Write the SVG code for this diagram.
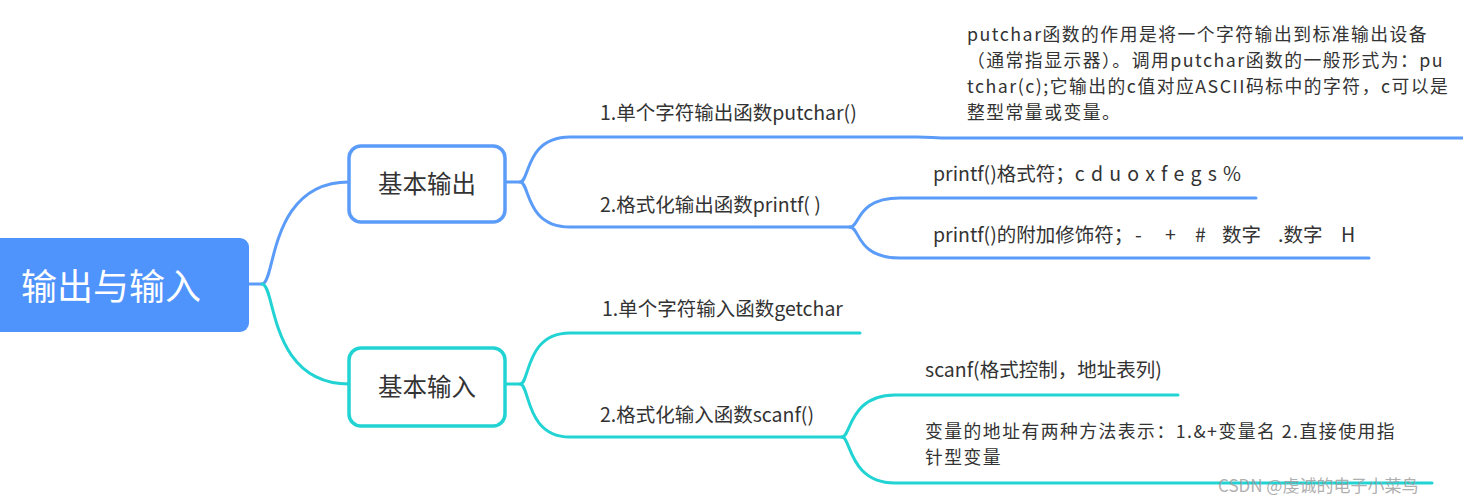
<svg xmlns="http://www.w3.org/2000/svg" width="1463" height="503" viewBox="0 0 1463 503">
<style>
.t{font-family:"Noto Sans CJK SC","Noto Sans",sans-serif;fill:#333;font-size:19.5px}
.m{font-family:"Noto Sans CJK SC","Noto Sans",sans-serif;fill:#333;font-size:17.8px;letter-spacing:1.5px}
.b{fill:none;stroke:#5b9cf8;stroke-width:3;stroke-linecap:round}
.g{fill:none;stroke:#22d3d3;stroke-width:3;stroke-linecap:round}
.n{font-family:"Noto Sans CJK SC",sans-serif;fill:#333;font-size:24.5px;text-anchor:middle}
</style>
<rect width="1463" height="503" fill="#fff"/>
<g id="connectors">
<path class="b" d="M249,284 H262 C276,284 268,182 349,182"/>
<path class="g" d="M262,284 C276,284 268,384 349,384"/>
<path class="b" d="M505,182 H520 C530,182 525,137 570,137 H917 C930,137 935,138 950,138 H1463"/>
<path class="b" d="M520,182 C530,182 525,227 570,227 H850"/>
<path class="b" d="M850,227 C860,227 856,198 900,198 H1256"/>
<path class="b" d="M850,227 C860,227 856,258 900,258 H1369"/>
<path class="g" d="M505,384 H520 C530,384 525,333 570,333 H860"/>
<path class="g" d="M520,384 C530,384 525,437 570,437 H842"/>
<path class="g" d="M842,437 C851,437 849,395 895,395 H1178"/>
<path class="g" d="M842,437 C851,437 849,483 895,483 H1432"/>
</g>
<g id="root">
<rect x="-10" y="238" width="259" height="94" rx="9" fill="#4f93fc"/>
<text x="21" y="300" style="font-family:'Noto Sans CJK SC',sans-serif;font-size:36px;fill:#fff">输出与输入</text>
</g>
<g id="out">
<rect x="349" y="146" width="156" height="76" rx="12" fill="#fff" stroke="#5b9cf8" stroke-width="3.5"/>
<text class="n" x="427" y="193">基本输出</text>
</g>
<g id="in">
<rect x="349" y="348" width="156" height="78" rx="12" fill="#fff" stroke="#22d3d3" stroke-width="3.5"/>
<text class="n" x="427" y="396">基本输入</text>
</g>
<g id="putchar"><text class="t" x="600" y="120">1.单个字符输出函数putchar()</text></g>
<g id="putchar-desc">
<text class="m" x="967" y="41">putchar函数的作用是将一个字符输出到标准输出设备</text>
<text class="m" x="967" y="67">（通常指显示器）。调用putchar函数的一般形式为：pu</text>
<text class="m" x="967" y="93">tchar(c);它输出的c值对应ASCII码标中的字符，c可以是</text>
<text class="m" x="967" y="119">整型常量或变量。</text>
</g>
<g id="printf"><text class="t" x="600" y="212">2.格式化输出函数printf( )</text></g>
<g id="printf-fmt"><text class="t" x="933" y="181">printf()格式符；<tspan style="word-spacing:1.8px">c d u o x f e g s %</tspan></text></g>
<g id="printf-mod"><text class="t" x="933" y="242">printf()的附加修饰符；<tspan x="1135">-</tspan><tspan x="1165">+</tspan><tspan x="1195">#</tspan><tspan x="1222">数字</tspan><tspan x="1278">.数字</tspan><tspan x="1341">H</tspan></text></g>
<g id="getchar"><text class="t" x="602" y="316">1.单个字符输入函数getchar</text></g>
<g id="scanf"><text class="t" x="600" y="422">2.格式化输入函数scanf()</text></g>
<g id="scanf-fmt"><text class="t" x="925" y="377">scanf(格式控制，地址表列)</text></g>
<g id="scanf-addr">
<text class="m" x="925" y="438">变量的地址有两种方法表示：1.&amp;+变量名 2.直接使用指</text>
<text class="m" x="925" y="464">针型变量</text>
</g>
<text x="1218" y="492" style="font-family:'Noto Sans CJK SC',sans-serif;font-size:17px;fill:#999;fill-opacity:0.8">CSDN @虔诚的电子小菜鸟</text>
</svg>
